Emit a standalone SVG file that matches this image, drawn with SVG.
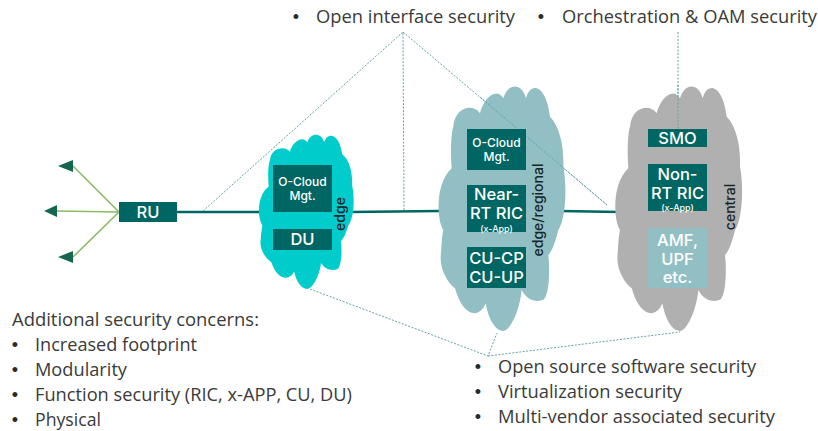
<svg xmlns="http://www.w3.org/2000/svg" xmlns:xlink="http://www.w3.org/1999/xlink" width="818" height="431" viewBox="0 0 818 431">
<style>
text{font-family:"Open Sans","Liberation Sans",sans-serif}
.t{font-size:17.5px;fill:#3a3a3a}
.b{font-family:"Liberation Sans",sans-serif;font-size:18px;fill:#2a2a2a;text-anchor:middle}
.box{fill:#006663}
.lb{font-family:Inter,"Liberation Sans",sans-serif;font-weight:500;fill:#fff;text-anchor:middle}
.v{font-family:Inter,"Liberation Sans",sans-serif;font-weight:500;font-size:14px;fill:#15262b;text-anchor:middle}
.d{fill:none;stroke:#5fa3a8;stroke-width:1;stroke-dasharray:2 1.5}
.g{stroke:#8cbb63;stroke-width:1.6;fill:none}
.a{fill:#15664f}
</style>
<defs>
<path id="cloud" d="M250,85C262,40 305,35 318,85C330,35 378,40 390,140C420,170 432,230 430,290C440,340 440,440 415,480C405,520 395,545 385,555C390,600 388,670 372,688C350,700 320,690 305,660C300,720 270,783 250,783C225,783 205,745 197,700C180,745 130,745 105,655C85,640 60,600 62,560C65,530 65,500 70,480C50,450 45,340 95,295C90,240 95,180 100,170C105,110 160,100 180,130C190,85 230,50 250,85Z"/>
</defs>
<g id="connectors">
<path d="M177,212L270,212M350,212L440,211M560,211L620,212" stroke="#006663" stroke-width="2.5" fill="none"/>
<path class="g" d="M119,212L73,166M119,212L57,211M119,212L73,257"/>
<polygon class="a" points="58,166 73,160 73,172"/>
<polygon class="a" points="44,211 57,205 57,217"/>
<polygon class="a" points="58,257 73,251 73,263"/>
<path class="d" d="M203,211L403,32L404,211M403,32L607,205"/>
<path class="d" d="M678,32L678,100"/>
<path class="d" d="M310,289L488,356L497,333M488,356L680,332"/>
</g>
<g id="cloud-edge">
<use xlink:href="#cloud" href="#cloud" fill="#00cccc" transform="translate(245.050,124.500) scale(0.249,0.21)"/>
<rect class="box" x="273" y="165" width="59" height="47"/>
<text class="lb" x="302.500" y="186" font-size="12">O-Cloud</text>
<text class="lb" x="302.500" y="200" font-size="12">Mgt.</text>
<rect class="box" x="273" y="229" width="59" height="21"/>
<text class="lb" x="302.500" y="245" font-size="16.500">DU</text>
<text class="v" transform="translate(345,214) rotate(-90)">edge</text>
</g>
<g id="cloud-regional">
<use xlink:href="#cloud" href="#cloud" fill="#92bfc4" transform="translate(420,70) scale(0.3333)"/>
<path class="d" d="M480,97L607,205"/>
<rect class="box" x="467" y="129" width="59" height="41"/>
<text class="lb" x="496.500" y="147" font-size="12">O-Cloud</text>
<text class="lb" x="496.500" y="161" font-size="12">Mgt.</text>
<rect class="box" x="467" y="185" width="59" height="47"/>
<text class="lb" x="496.500" y="200" font-size="16.500">Near-</text>
<text class="lb" x="496.500" y="219" font-size="16.500">RT RIC</text>
<text class="lb" x="496.500" y="232" font-size="9">(x-App)</text>
<rect class="box" x="467" y="247" width="59" height="41"/>
<text class="lb" x="496.500" y="264" font-size="16.500">CU-CP</text>
<text class="lb" x="496.500" y="283" font-size="16.500">CU-UP</text>
<text class="v" transform="translate(543,210) rotate(-90)">edge/regional</text>
</g>
<g id="cloud-central">
<use xlink:href="#cloud" href="#cloud" fill="#b0b0b0" transform="translate(596.700,70) scale(0.3333)"/>
<path class="d" d="M678,85L678,128"/>
<rect class="box" x="648" y="129" width="59" height="18"/>
<text class="lb" x="677.500" y="144" font-size="16.500">SMO</text>
<rect class="box" x="648" y="164" width="59" height="47"/>
<text class="lb" x="677.500" y="180" font-size="16.500">Non-</text>
<text class="lb" x="677.500" y="199" font-size="16.500">RT RIC</text>
<text class="lb" x="677.500" y="211" font-size="9">(x-App)</text>
<rect x="648" y="228" width="59" height="60" fill="#92bfc4"/>
<text class="lb" x="677.500" y="246" font-size="16.500">AMF,</text>
<text class="lb" x="677.500" y="265" font-size="16.500">UPF</text>
<text class="lb" x="677.500" y="283" font-size="16.500">etc.</text>
<text class="v" transform="translate(735,207) rotate(-90)">central</text>
</g>
<g id="ru">
<rect class="box" x="119" y="202" width="58" height="20"/>
<text class="lb" x="148" y="218" font-size="16.500">RU</text>
</g>
<g id="labels">
<text class="b" x="296" y="23">•</text>
<text class="t" x="316" y="23" textLength="199" lengthAdjust="spacingAndGlyphs">Open interface security</text>
<text class="b" x="541" y="23">•</text>
<text class="t" x="562" y="23" textLength="255" lengthAdjust="spacingAndGlyphs">Orchestration &amp; OAM security</text>
<text class="t" x="12" y="326" textLength="247" lengthAdjust="spacingAndGlyphs">Additional security concerns:</text>
<text class="b" x="15" y="351">•</text>
<text class="t" x="35" y="351" textLength="162" lengthAdjust="spacingAndGlyphs">Increased footprint</text>
<text class="b" x="15" y="376">•</text>
<text class="t" x="35" y="376" textLength="92" lengthAdjust="spacingAndGlyphs">Modularity</text>
<text class="b" x="15" y="401">•</text>
<text class="t" x="35" y="401" textLength="317" lengthAdjust="spacingAndGlyphs">Function security (RIC, x-APP, CU, DU)</text>
<text class="b" x="15" y="426">•</text>
<text class="t" x="35" y="426" textLength="66" lengthAdjust="spacingAndGlyphs">Physical</text>
<text class="b" x="478" y="373">•</text>
<text class="t" x="498" y="373" textLength="258" lengthAdjust="spacingAndGlyphs">Open source software security</text>
<text class="b" x="478" y="398">•</text>
<text class="t" x="498" y="398" textLength="184" lengthAdjust="spacingAndGlyphs">Virtualization security</text>
<text class="b" x="478" y="423">•</text>
<text class="t" x="498" y="423" textLength="277" lengthAdjust="spacingAndGlyphs">Multi-vendor associated security</text>
</g>
</svg>
